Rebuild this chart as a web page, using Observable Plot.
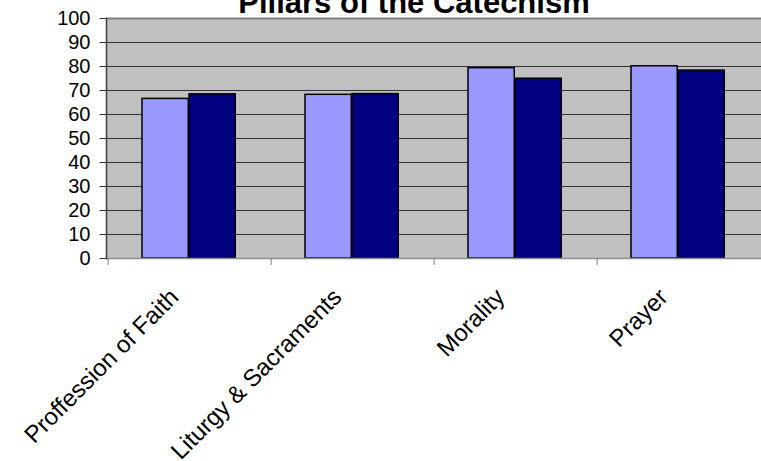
<!DOCTYPE html>
<html><head><meta charset="utf-8">
<script src="https://cdn.jsdelivr.net/npm/d3@7"></script>
<script src="https://cdn.jsdelivr.net/npm/@observablehq/plot@0.6"></script>
<style>html,body{margin:0;padding:0;background:#fff} svg{display:block}</style>
</head><body><div id="chart"></div>
<script>
const title = "Pillars of the Catechism";
const categories = ["Proffession of Faith", "Liturgy & Sacraments", "Morality", "Prayer"];
const seriesNames = ["Series 1", "Series 2"];
const series1 = [66.5, 68.2, 79.3, 80.1];
const series2 = [68.4, 68.5, 74.9, 78.3];
const yTicks = [0, 10, 20, 30, 40, 50, 60, 70, 80, 90, 100];
const colors = ["#9999FF", "#000080"];

const rows1 = categories.map((c, i) => ({category: c, series: seriesNames[0], value: series1[i]}));
const rows2 = categories.map((c, i) => ({category: c, series: seriesNames[1], value: series2[i]}));

const W = 761, H = 461, mL = 106, mR = 0, mT = 18, mB = 203;
const step = (W - mL - mR) / categories.length;
const barW = 47, gap = 34;
const font = "'Liberation Sans', Arial, sans-serif";

const chart = Plot.plot({
  width: W, height: H,
  marginLeft: mL, marginRight: mR, marginTop: mT, marginBottom: mB,
  style: {fontFamily: font, background: "#fff", overflow: "visible", color: "#000"},
  x: {domain: categories, type: "band", padding: 0, axis: null, label: null},
  y: {domain: [0, 100], axis: null, label: null},
  color: {domain: seriesNames, range: colors},
  marks: [
    Plot.frame({fill: "#C0C0C0", stroke: null}),
    Plot.gridY(yTicks.slice(1, -1), {stroke: "#333", strokeOpacity: 1, strokeWidth: 1}),
    Plot.ruleY([100], {stroke: "#808080", strokeWidth: 2}),
    Plot.barY(rows1, {x: "category", y: "value", fill: "series", stroke: "#000", strokeWidth: 1.5,
      insetLeft: gap, insetRight: step - gap - barW}),
    Plot.barY(rows2, {x: "category", y: "value", fill: "series", stroke: "#000", strokeWidth: 1.5,
      insetLeft: gap + barW, insetRight: step - gap - 2 * barW}),
    Plot.ruleY([0], {stroke: "#909090", strokeWidth: 1.5}),
    Plot.frame({anchor: "left", stroke: "#404040", strokeWidth: 1.5}),
    Plot.axisY({ticks: yTicks, tickSize: 6, tickPadding: 10, fontSize: 20, stroke: "#333", label: null, tickFormat: d => String(d)}),
    Plot.axisX({tickSize: 7, tickFormat: () => "", label: null, dx: -step / 2, stroke: "#808080"}),
    Plot.text(categories, {x: d => d, frameAnchor: "bottom", rotate: -45, textAnchor: "end", lineAnchor: "top",
      dx: -22, dy: 28, fontSize: 24, fill: "#000"}),
    Plot.text([title], {frameAnchor: "top", dx: -20, dy: -6, lineAnchor: "bottom", fontWeight: "bold", fontSize: 31, fill: "#000"})
  ]
});
document.getElementById("chart").appendChild(chart);
</script>
</body></html>
